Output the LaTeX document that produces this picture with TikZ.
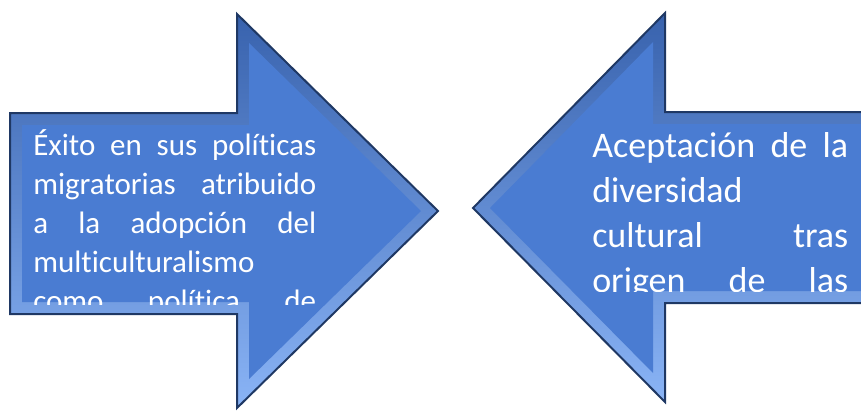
\documentclass[tikz,border=0pt]{standalone}
\usepackage{fontspec}
\setmainfont{Carlito}[Ligatures=NoCommon]
\newcommand{\wgap}{\hskip 0pt plus 1fill\relax}

\begin{document}
\begin{tikzpicture}[x=0.75pt, y=-0.75pt]
    \definecolor{C0}{HTML}{4A7CD2}
    \definecolor{C1}{HTML}{3862AD}
    \definecolor{C2}{HTML}{8AB4F6}
    \definecolor{C3}{HTML}{1F3864}

    \tikzset{
        bevel/.style={top color=C1, bottom color=C2},
        face/.style={fill=C0},
        rim/.style={draw=C3, line width=1.5pt, line join=miter},
        textbox/.style={text=white, inner sep=0pt, align=left, anchor=base west}
    }

    \useasboundingbox (0,0) rectangle (861,415);
    \clip (0,0) rectangle (861,415);

    % left arrow
    \path[bevel] (10,113) -- (237,113) -- (237,14) -- (438,211) -- (237,408) -- (237,314) -- (10,314) -- cycle;
    \path[face] (22,125) -- (249,125) -- (249,43) -- (421,211) -- (249,379) -- (249,302) -- (22,302) -- cycle;
    \path[rim] (10,113) -- (237,113) -- (237,14) -- (438,211) -- (237,408) -- (237,314) -- (10,314) -- cycle;

    % right arrow
    \path[bevel] (880,112) -- (665,112) -- (665,13) -- (473,208) -- (665,402) -- (665,303) -- (880,303) -- cycle;
    \path[face] (880,124) -- (653,124) -- (653,42) -- (490,208) -- (653,373) -- (653,291) -- (880,291) -- cycle;
    \path[rim] (880,112) -- (665,112) -- (665,13) -- (473,208) -- (665,402) -- (665,303) -- (880,303) -- cycle;

    \begin{scope}
        \clip (12,115) rectangle (340,304);
        \node[textbox, font=\fontsize{23.25}{29.25}\selectfont, text width=212.25pt] (exito) at (33,155)
            {Éxito\wgap en\wgap sus\wgap políticas\\
             migratorias\wgap atribuido\\
             a\wgap la\wgap adopción\wgap del\\
             multiculturalismo\\
             como\wgap política\wgap de};
    \end{scope}

    \begin{scope}
        \clip (580,114) rectangle (861,291);
        \node[textbox, font=\fontsize{27}{33.75}\selectfont, text width=192pt] (aceptacion) at (592,157)
            {Aceptación\wgap de\wgap la\\
             diversidad\\
             cultural\wgap tras\\
             origen\wgap de\wgap las};
    \end{scope}

\end{tikzpicture}
\end{document}
